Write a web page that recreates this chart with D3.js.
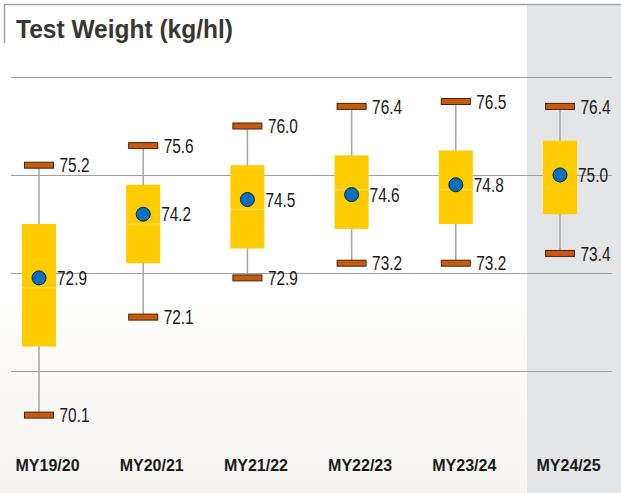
<!DOCTYPE html>
<html>
<head>
<meta charset="utf-8">
<script src="https://cdn.jsdelivr.net/npm/d3@7"></script>
<style>
  body { margin: 0; background: #fff; }
  svg { display: block; }
</style>
</head>
<body>
<div id="chart"></div>
<script>
var categories = ["MY19/20", "MY20/21", "MY21/22", "MY22/23", "MY23/24", "MY24/25"];
var minVals    = [70.1, 72.1, 72.9, 73.2, 73.2, 73.4];
var maxVals    = [75.2, 75.6, 76.0, 76.4, 76.5, 76.4];
var q1Vals     = [71.5, 73.2, 73.5, 73.9, 74.0, 74.2];
var q3Vals     = [74.0, 74.8, 75.2, 75.4, 75.5, 75.7];
var medianVals = [72.7, 74.0, 74.3, 74.7, 74.7, null];
var meanVals   = [72.9, 74.2, 74.5, 74.6, 74.8, 75.0];
var gridVals   = [77, 75, 73, 71];

var width = 621, height = 493;
var sans = "'Liberation Sans', Arial, sans-serif";

var svg = d3.select("#chart").append("svg")
    .attr("width", width)
    .attr("height", height);

var x = d3.scalePoint().domain(categories).range([39, 560]),
    y = d3.scaleLinear().domain([69, 77]).range([469, 77]);

var defs = svg.append("defs");
var grad = defs.append("linearGradient").attr("id", "bg")
    .attr("x1", 0).attr("y1", 0).attr("x2", 0).attr("y2", 1);
grad.append("stop").attr("offset", "0.55").attr("stop-color", "#ffffff");
grad.append("stop").attr("offset", "1").attr("stop-color", "#f6f4f1");

svg.append("rect").attr("width", width).attr("height", height).attr("fill", "url(#bg)");

// shaded latest year column
svg.append("rect")
    .attr("x", 527).attr("y", 5)
    .attr("width", width - 527).attr("height", height - 5)
    .attr("fill", "#e4e5e7");

// frame bits around the title
svg.append("line").attr("x1", 4).attr("x2", width).attr("y1", 4.5).attr("y2", 4.5)
    .attr("stroke", "#a3a3a3").attr("stroke-width", 1.5);
svg.append("line").attr("x1", 4.5).attr("x2", 4.5).attr("y1", 4).attr("y2", 43)
    .attr("stroke", "#a3a3a3").attr("stroke-width", 1.5);

svg.append("text")
    .attr("x", 16).attr("y", 38)
    .attr("font-family", sans)
    .attr("font-weight", "bold")
    .attr("font-size", 25)
    .attr("fill", "#3a3632")
    .attr("textLength", 217)
    .attr("lengthAdjust", "spacingAndGlyphs")
    .text("Test Weight (kg/hl)");

// gridlines
svg.selectAll(".gridline")
    .data(gridVals)
    .enter().append("line")
    .attr("class", "gridline")
    .attr("x1", 11)
    .attr("x2", 612)
    .attr("y1", function(d) { return Math.round(y(d)) + 0.5; })
    .attr("y2", function(d) { return Math.round(y(d)) + 0.5; })
    .attr("stroke", "#a0a0a0")
    .attr("stroke-width", 1);

var rows = categories.map(function(c, i) {
    return {cat: c, min: minVals[i], max: maxVals[i], q1: q1Vals[i], q3: q3Vals[i],
            med: medianVals[i], mean: meanVals[i]};
});

var g = svg.selectAll(".box").data(rows).enter().append("g").attr("class", "box");

// whisker
g.append("line")
    .attr("x1", function(d) { return x(d.cat); })
    .attr("x2", function(d) { return x(d.cat); })
    .attr("y1", function(d) { return y(d.max); })
    .attr("y2", function(d) { return y(d.min); })
    .attr("stroke", "#a5a5a5")
    .attr("stroke-width", 1.5);

var boxW = 34, capW = 29, capH = 6;

g.append("rect")
    .attr("x", function(d) { return x(d.cat) - boxW / 2; })
    .attr("y", function(d) { return y(d.q3); })
    .attr("width", boxW)
    .attr("height", function(d) { return y(d.q1) - y(d.q3); })
    .attr("fill", "#ffcc00");

g.filter(function(d) { return d.med != null; }).append("line")
    .attr("x1", function(d) { return x(d.cat) - boxW / 2; })
    .attr("x2", function(d) { return x(d.cat) + boxW / 2; })
    .attr("y1", function(d) { return y(d.med); })
    .attr("y2", function(d) { return y(d.med); })
    .attr("stroke", "#ffe27a")
    .attr("stroke-width", 1);

// caps
["max", "min"].forEach(function(k) {
    g.append("rect")
        .attr("x", function(d) { return x(d.cat) - capW / 2; })
        .attr("y", function(d) { return y(d[k]) - capH / 2; })
        .attr("width", capW)
        .attr("height", capH)
        .attr("fill", "#c55a11")
        .attr("stroke", "#4a2306")
        .attr("stroke-width", 1);

    g.append("text")
        .attr("x", function(d) { return x(d.cat) + capW / 2 + 6; })
        .attr("y", function(d) { return y(d[k]); })
        .attr("dy", "0.36em")
        .attr("font-family", sans)
        .attr("font-size", 20)
        .attr("fill", "#1a1a1a")
        .attr("textLength", 30)
        .attr("lengthAdjust", "spacingAndGlyphs")
        .text(function(d) { return d[k].toFixed(1); });
});

// mean marker
g.append("circle")
    .attr("cx", function(d) { return x(d.cat); })
    .attr("cy", function(d) { return y(d.mean); })
    .attr("r", 7)
    .attr("fill", "#0070c0")
    .attr("stroke", "#1a1a1a")
    .attr("stroke-width", 1);

g.append("text")
    .attr("x", function(d) { return x(d.cat) + 18; })
    .attr("y", function(d) { return y(d.mean); })
    .attr("dy", "0.36em")
    .attr("font-family", sans)
    .attr("font-size", 20)
    .attr("fill", "#1a1a1a")
    .attr("textLength", 30)
    .attr("lengthAdjust", "spacingAndGlyphs")
    .text(function(d) { return d.mean.toFixed(1); });

// category labels (sit a little right of the boxes)
var xAxis = d3.axisBottom(x).tickSize(0).tickPadding(0);
var ax = svg.append("g")
    .attr("transform", "translate(8,460)")
    .call(xAxis);
ax.select(".domain").remove();
ax.selectAll("text")
    .attr("dy", "0.7em")
    .attr("font-family", sans)
    .attr("font-weight", "bold")
    .attr("font-size", 16)
    .attr("fill", "#1a1a1a");
</script>
</body>
</html>
